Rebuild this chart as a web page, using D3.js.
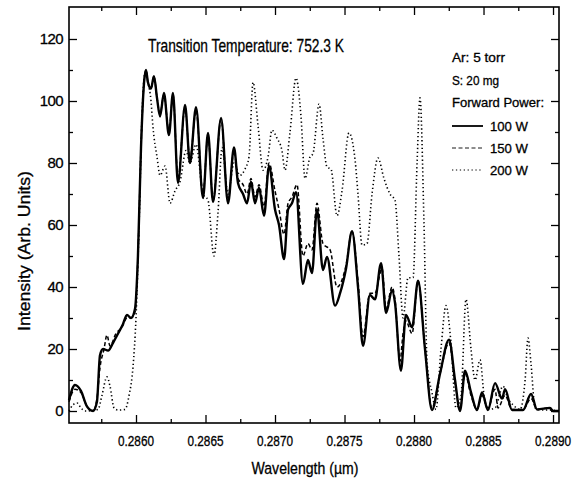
<!DOCTYPE html>
<html lang="en">
<head>
    <meta charset="UTF-8">
    <title>Transition Temperature spectrum</title>
    <style>
        body { margin: 0; background: #fff; }
        svg text { font-family: "Liberation Sans", Arial, sans-serif; fill: #000; stroke: #000; stroke-width: 0.3; }
        .axis path { display: none; }
        .axis line { stroke: #000; stroke-width: 1.3; }
    </style>
</head>
<body>
    <svg id="chart" width="582" height="491"></svg>
    <script src="https://d3js.org/d3.v7.min.js"></script>
    <script>
        // wavelength (um) and intensity values
        var wl100 = [0.285518,0.285561,0.285604,0.285647,0.285691,0.285719,0.285741,0.285763,0.285799,0.285835,0.285871,0.285906,0.285935,0.285964,0.285993,0.286014,0.286036,0.286058,0.286072,0.286086,0.286108,0.286129,0.286151,0.286173,0.286201,0.286237,0.286266,0.286302,0.286353,0.286388,0.286432,0.286482,0.286518,0.286554,0.286612,0.286662,0.286705,0.286734,0.286770,0.286799,0.286827,0.286856,0.286885,0.286921,0.286957,0.287000,0.287029,0.287065,0.287094,0.287122,0.287151,0.287201,0.287237,0.287266,0.287302,0.287345,0.287374,0.287432,0.287468,0.287511,0.287554,0.287597,0.287633,0.287683,0.287719,0.287763,0.287799,0.287842,0.287863,0.287906,0.287942,0.287986,0.288029,0.288079,0.288129,0.288187,0.288252,0.288295,0.288331,0.288367,0.288410,0.288453,0.288489,0.288532,0.288583,0.288633,0.288655,0.288705,0.288784,0.288842,0.288885,0.288978,0.289000,0.289043];
        var int100 = [3.5,8.4,6.5,1.5,0,3,18,20,19.5,22,25,28,31,30,33,50,85,106,110,106,104,108,101,95,102.6,89,102.6,73.5,98.7,80,98,68.7,89.7,67.4,94.5,67,85,73.5,70,67,74,67,72,63,79,65,60,49,65,67,70.6,41,48.7,44.5,65,45.5,49.7,34,38,46,58,40,21,37.4,36,47.7,31.6,39,35,13,31,27,42,20,0.3,12,23,10,0,13,6,0.3,6,0.3,9,4,7,0.3,0.3,5.5,0.5,1,0,0];

        var wl150 = [0.285518,0.285561,0.285604,0.285647,0.285691,0.285719,0.285741,0.285770,0.285791,0.285813,0.285856,0.285899,0.285935,0.285964,0.285993,0.286014,0.286036,0.286058,0.286072,0.286086,0.286108,0.286129,0.286151,0.286173,0.286201,0.286237,0.286266,0.286302,0.286353,0.286388,0.286432,0.286482,0.286518,0.286554,0.286612,0.286662,0.286705,0.286734,0.286770,0.286799,0.286827,0.286856,0.286885,0.286921,0.286957,0.287000,0.287029,0.287065,0.287094,0.287122,0.287158,0.287201,0.287237,0.287266,0.287302,0.287345,0.287396,0.287446,0.287511,0.287554,0.287597,0.287633,0.287683,0.287719,0.287770,0.287799,0.287842,0.287863,0.287899,0.287921,0.287942,0.287986,0.288029,0.288079,0.288129,0.288187,0.288252,0.288295,0.288331,0.288367,0.288410,0.288453,0.288489,0.288532,0.288583,0.288604,0.288655,0.288705,0.288784,0.288842,0.288885,0.288978,0.289000,0.289043];
        var int150 = [3,7,6,1.5,0,4,14,20,24.5,21,25,27,30,30,32,50,85,106,110,106,104,108,101,96,102,90,102,75,98,81,97,70,89,68,94,68,84,75,73,70,75,69,73,66,80,71,65,57,67,69,73,50,54,52,67,54,52,40,47,58,42,24,38,38,46,33,40,36,16,25,29,25,42,20,1,12,22,9,0.5,12,5,0.5,5,1,7,1,5,0.5,0.5,4,0.5,1,0,0];

        var wl200 = [0.285518,0.285547,0.285576,0.285604,0.285633,0.285727,0.285755,0.285791,0.285813,0.285842,0.285871,0.285921,0.285950,0.285978,0.286000,0.286022,0.286043,0.286065,0.286086,0.286108,0.286122,0.286151,0.286173,0.286209,0.286245,0.286281,0.286317,0.286360,0.286388,0.286432,0.286482,0.286518,0.286561,0.286590,0.286619,0.286662,0.286705,0.286748,0.286784,0.286813,0.286842,0.286878,0.286914,0.286950,0.286978,0.287014,0.287050,0.287072,0.287108,0.287151,0.287187,0.287216,0.287252,0.287273,0.287317,0.287345,0.287374,0.287403,0.287446,0.287482,0.287532,0.287576,0.287597,0.287626,0.287662,0.287698,0.287741,0.287784,0.287827,0.287863,0.287892,0.287921,0.287957,0.287993,0.288022,0.288043,0.288072,0.288094,0.288129,0.288158,0.288194,0.288230,0.288266,0.288302,0.288338,0.288374,0.288410,0.288439,0.288475,0.288504,0.288532,0.288583,0.288640,0.288676,0.288712,0.288763,0.288799,0.288820,0.288842,0.288871,0.288914,0.288978,0.289043];
        var int200 = [0,2,2.6,1,0,0.5,5,11,8,1,0.3,0.5,5,14,30,60,95,109,106,100,91.6,82,76,79,67,71,74,84,80,86,70,68,50,64,85,70,80,76,78,82,106,92,77.7,82,90.6,88,84,77.7,90,107.4,95,75,82,83,99,88,78.7,78,63,71,89.7,81,70,53.5,54,70,81.6,75,70,68,50,30,43,43,80,101,60,15.5,6,0.5,20,34,22,1,5,36,20,10,16.5,5,0.5,1,8,4,2,0.5,10,23.5,15,1,0.3,0.3,0];

        var seriesNames = ["100 W", "150 W", "200 W"];
        var xMajor = [0.2860, 0.2865, 0.2870, 0.2875, 0.2880, 0.2885, 0.2890];
        var xMinor = [0.28575, 0.28625, 0.28675, 0.28725, 0.28775, 0.28825, 0.28875];
        var yMajor = [0, 20, 40, 60, 80, 100, 120];
        var yMinor = [10, 30, 50, 70, 90, 110];
        var notes = ["Ar: 5 torr", "S: 20 mg", "Forward Power:"];

        var plotLeft = 69, plotRight = 559, plotTop = 7, plotBottom = 423;
        var svg = d3.select("#chart");

        var x = d3.scaleLinear().domain([0.285518, 0.289043]).range([plotLeft, plotRight]);
        var y = d3.scaleLinear().domain([-3.87, 130.32]).range([plotBottom, plotTop]);

        // ticks on all four sides, pointing inward
        function tickAxis(axisFn, scale, vals, size, tx, ty) {
            svg.append("g")
                .attr("class", "axis")
                .attr("transform", "translate(" + tx + "," + ty + ")")
                .call(axisFn(scale).tickValues(vals).tickSize(-size).tickFormat(""));
        }
        tickAxis(d3.axisBottom, x, xMajor, 8, 0, plotBottom);
        tickAxis(d3.axisBottom, x, xMinor, 4, 0, plotBottom);
        tickAxis(d3.axisTop, x, xMajor, 8, 0, plotTop);
        tickAxis(d3.axisTop, x, xMinor, 4, 0, plotTop);
        tickAxis(d3.axisLeft, y, yMajor, 8, plotLeft, 0);
        tickAxis(d3.axisLeft, y, yMinor, 4, plotLeft, 0);
        tickAxis(d3.axisRight, y, yMajor, 8, plotRight, 0);
        tickAxis(d3.axisRight, y, yMinor, 4, plotRight, 0);

        svg.append("rect")
            .attr("x", plotLeft).attr("y", plotTop)
            .attr("width", plotRight - plotLeft).attr("height", plotBottom - plotTop)
            .attr("fill", "none").attr("stroke", "#000").attr("stroke-width", 1.6);

        // tick labels
        svg.selectAll(".xlab").data(xMajor).enter().append("text")
            .attr("x", function(d) { return x(d); })
            .attr("y", 446)
            .attr("text-anchor", "middle")
            .attr("font-size", 14)
            .attr("textLength", 36).attr("lengthAdjust", "spacingAndGlyphs")
            .text(function(d) { return d.toFixed(4); });

        svg.selectAll(".ylab").data(yMajor).enter().append("text")
            .attr("x", 63)
            .attr("y", function(d) { return y(d) + 5; })
            .attr("text-anchor", "end")
            .attr("font-size", 15)
            .attr("letter-spacing", -0.6)
            .text(function(d) { return d; });

        // axis titles
        svg.append("text")
            .attr("x", 305).attr("y", 474)
            .attr("text-anchor", "middle")
            .attr("font-size", 17)
            .attr("textLength", 107).attr("lengthAdjust", "spacingAndGlyphs")
            .text("Wavelength (\u00b5m)");

        svg.append("text")
            .attr("transform", "translate(30,251) rotate(-90)")
            .attr("text-anchor", "middle")
            .attr("font-size", 17)
            .attr("textLength", 160).attr("lengthAdjust", "spacingAndGlyphs")
            .text("Intensity (Arb. Units)");

        svg.append("text")
            .attr("x", 246).attr("y", 52)
            .attr("text-anchor", "middle")
            .attr("font-size", 19)
            .attr("textLength", 196).attr("lengthAdjust", "spacingAndGlyphs")
            .text("Transition Temperature: 752.3 K");

        // spectra
        var line = d3.line()
            .x(function(d) { return x(d[0]); })
            .y(function(d) { return y(d[1]); })
            .curve(d3.curveMonotoneX);

        var styles = [
            { w: 2.4, dash: null },
            { w: 1.5, dash: "4,2.5" },
            { w: 1.6, dash: "1.3,2.6" }
        ];
        var series = [d3.zip(wl100, int100), d3.zip(wl150, int150), d3.zip(wl200, int200)];

        series.forEach(function(s, i) {
            svg.append("path")
                .datum(s)
                .attr("d", line)
                .attr("fill", "none")
                .attr("stroke", "#000")
                .attr("stroke-width", styles[i].w)
                .attr("stroke-dasharray", styles[i].dash)
                .attr("stroke-linejoin", "round");
        });

        // legend
        var lg = svg.append("g").attr("font-size", 13);
        lg.selectAll(".note").data(notes).enter().append("text")
            .attr("x", 452)
            .attr("y", function(d, i) { return 62 + i * 22.5; })
            .attr("textLength", function(d, i) { return [53, 47, 92][i]; })
            .attr("lengthAdjust", "spacingAndGlyphs")
            .text(function(d) { return d; });

        var items = lg.selectAll(".item").data(seriesNames).enter().append("g")
            .attr("transform", function(d, i) { return "translate(0," + (126 + i * 22) + ")"; });
        items.append("line")
            .attr("x1", 452).attr("x2", 483)
            .attr("stroke", "#000")
            .attr("stroke-width", function(d, i) { return styles[i].w - 0.6; })
            .attr("stroke-dasharray", function(d, i) { return styles[i].dash; });
        items.append("text")
            .attr("x", 490).attr("y", 5)
            .attr("textLength", 38).attr("lengthAdjust", "spacingAndGlyphs")
            .text(function(d) { return d; });
    </script>
</body>
</html>
